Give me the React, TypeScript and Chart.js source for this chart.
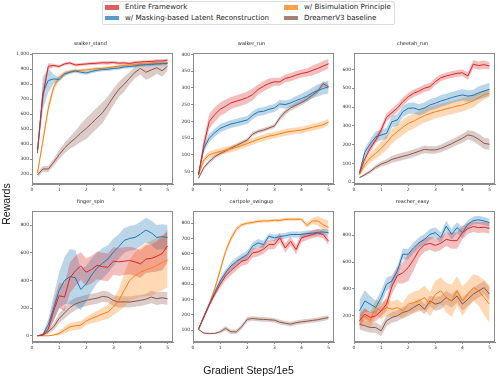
import React, { useEffect, useRef } from "react";
import { Chart, registerables } from "chart.js";

Chart.register(...registerables);

// ---------------- DATA ----------------
const STEPS = [0.2, 0.4, 0.6, 0.8, 1.0, 1.2, 1.4, 1.6, 1.8, 2.0, 2.2, 2.4, 2.6, 2.8, 3.0, 3.2, 3.4, 3.6, 3.8, 4.0, 4.2, 4.4, 4.6, 4.8, 5.0];
const X_TICKS = [0, 1, 2, 3, 4, 5];

const SERIES_NAMES = ["Entire Framework", "w/ Masking-based Latent Reconstruction", "w/ Bisimulation Principle", "DreamerV3 baseline"];
const TASKS = ["walker_stand", "walker_run", "cheetah_run", "finger_spin", "cartpole_swingup", "reacher_easy"];

// walker_stand
const WS_FULL = [360, 720, 920, 925, 918, 935, 942, 928, 932, 935, 938, 940, 943, 942, 945, 940, 942, 938, 945, 948, 950, 952, 955, 955, 960];
const WS_FULL_SD = [30, 60, 20, 12, 10, 10, 10, 10, 10, 10, 10, 10, 12, 12, 10, 10, 10, 10, 10, 10, 10, 10, 12, 12, 12];
const WS_MASK = [340, 740, 825, 835, 832, 868, 880, 888, 880, 875, 885, 893, 898, 900, 905, 908, 915, 918, 922, 928, 930, 932, 935, 937, 938];
const WS_MASK_SD = [20, 110, 80, 30, 15, 15, 12, 12, 12, 12, 12, 12, 12, 12, 12, 12, 12, 12, 12, 12, 12, 12, 12, 12, 12];
const WS_BISIM = [207, 420, 640, 780, 845, 870, 885, 890, 893, 895, 900, 905, 905, 910, 915, 920, 925, 928, 930, 933, 935, 937, 938, 940, 943];
const WS_BISIM_SD = [15, 25, 30, 25, 20, 15, 12, 10, 10, 10, 10, 10, 10, 10, 10, 10, 10, 10, 10, 10, 10, 10, 10, 10, 10];
const WS_BASE = [195, 235, 235, 280, 330, 375, 410, 440, 475, 505, 540, 575, 610, 660, 715, 765, 800, 840, 880, 905, 880, 895, 910, 890, 920];
const WS_BASE_SD = [15, 20, 20, 25, 30, 35, 40, 50, 60, 70, 70, 70, 70, 60, 55, 50, 50, 40, 40, 40, 50, 50, 40, 40, 30];

// walker_run
const WR_FULL = [40, 130, 200, 220, 236, 245, 255, 260, 265, 271, 280, 295, 305, 313, 318, 318, 328, 332, 338, 343, 346, 352, 358, 365, 372];
const WR_FULL_SD = [8, 20, 22, 22, 20, 20, 18, 18, 18, 18, 18, 15, 15, 15, 12, 12, 12, 12, 12, 12, 12, 15, 15, 15, 15];
const WR_MASK = [40, 120, 150, 166, 179, 186, 192, 196, 200, 204, 218, 228, 230, 236, 240, 252, 250, 255, 262, 268, 275, 285, 292, 298, 303];
const WR_MASK_SD = [6, 12, 12, 12, 12, 12, 12, 12, 12, 12, 12, 12, 12, 12, 12, 12, 12, 12, 14, 14, 15, 16, 18, 18, 20];
const WR_BISIM = [40, 85, 100, 106, 110, 114, 118, 122, 128, 134, 140, 146, 151, 156, 159, 163, 167, 170, 172, 174, 178, 182, 186, 190, 198];
const WR_BISIM_SD = [5, 10, 10, 10, 10, 10, 10, 10, 10, 10, 10, 10, 10, 10, 10, 10, 10, 10, 10, 10, 10, 10, 10, 10, 10];
const WR_BASE = [30, 62, 80, 94, 104, 112, 120, 128, 136, 144, 162, 170, 174, 180, 186, 210, 228, 240, 248, 256, 266, 278, 290, 312, 303];
const WR_BASE_SD = [3, 5, 6, 6, 6, 6, 6, 6, 6, 6, 6, 6, 6, 6, 6, 8, 8, 8, 8, 8, 8, 8, 8, 8, 8];

// cheetah_run
const CR_FULL = [48, 125, 180, 225, 278, 345, 370, 395, 428, 455, 473, 485, 500, 508, 535, 555, 565, 572, 579, 582, 565, 628, 620, 625, 618];
const CR_FULL_SD = [10, 15, 18, 20, 20, 22, 22, 22, 22, 20, 20, 20, 20, 20, 20, 18, 18, 18, 18, 18, 20, 22, 22, 22, 20];
const CR_MASK = [50, 160, 205, 242, 251, 260, 322, 331, 375, 393, 395, 385, 395, 411, 420, 432, 440, 450, 458, 464, 458, 462, 475, 485, 494];
const CR_MASK_SD = [10, 20, 25, 28, 28, 30, 30, 30, 30, 30, 30, 30, 30, 30, 30, 30, 30, 30, 30, 30, 30, 30, 35, 35, 35];
const CR_BISIM = [40, 95, 130, 154, 181, 210, 245, 270, 292, 313, 325, 340, 355, 365, 375, 382, 390, 397, 405, 411, 422, 433, 450, 465, 473];
const CR_BISIM_SD = [8, 20, 25, 30, 35, 38, 40, 40, 40, 40, 40, 38, 38, 38, 35, 35, 35, 35, 35, 35, 35, 35, 30, 25, 20];
const CR_BASE = [25, 40, 58, 80, 97, 107, 122, 130, 138, 145, 155, 165, 175, 172, 172, 180, 192, 205, 220, 234, 252, 245, 228, 207, 202];
const CR_BASE_SD = [5, 8, 10, 12, 14, 16, 18, 20, 20, 20, 20, 20, 20, 20, 20, 20, 22, 22, 22, 24, 25, 28, 30, 30, 30];

// finger_spin
const FS_FULL = [0, 5, 50, 180, 290, 280, 420, 470, 505, 460, 480, 510, 500, 495, 540, 535, 540, 545, 535, 520, 555, 560, 575, 595, 650];
const FS_FULL_SD = [0, 5, 30, 70, 90, 100, 110, 110, 100, 100, 100, 100, 100, 100, 100, 100, 100, 100, 100, 100, 100, 100, 110, 120, 120];
const FS_MASK = [0, 10, 80, 200, 328, 400, 428, 420, 335, 376, 440, 490, 525, 556, 604, 645, 690, 705, 712, 736, 765, 745, 712, 717, 712];
const FS_MASK_SD = [0, 10, 40, 90, 130, 170, 200, 200, 150, 130, 120, 110, 110, 100, 100, 90, 90, 90, 90, 90, 90, 90, 90, 90, 90];
const FS_BISIM = [0, 0, 0, 5, 17, 41, 65, 72, 77, 108, 125, 140, 158, 172, 208, 256, 328, 400, 436, 460, 478, 490, 508, 530, 549];
const FS_BISIM_SD = [0, 0, 0, 5, 15, 25, 30, 30, 30, 30, 35, 40, 45, 50, 60, 80, 120, 150, 170, 180, 190, 200, 200, 200, 200];
const FS_BASE = [0, 5, 30, 65, 125, 165, 205, 230, 244, 256, 265, 272, 285, 280, 256, 244, 246, 244, 250, 256, 265, 280, 268, 275, 268];
const FS_BASE_SD = [0, 5, 15, 25, 35, 40, 45, 45, 40, 40, 40, 40, 40, 40, 40, 40, 40, 40, 40, 40, 40, 45, 45, 45, 45];

// cartpole_swingup
const CS_FULL = [105, 185, 265, 335, 399, 454, 490, 520, 551, 562, 606, 612, 630, 660, 660, 704, 638, 682, 627, 704, 715, 726, 737, 726, 682];
const CS_FULL_SD = [5, 10, 15, 20, 25, 30, 30, 30, 30, 30, 30, 30, 30, 30, 30, 30, 30, 30, 30, 30, 25, 25, 25, 25, 25];
const CS_MASK = [105, 190, 270, 345, 421, 475, 520, 550, 573, 595, 650, 671, 660, 715, 704, 712, 718, 726, 726, 726, 732, 735, 740, 743, 737];
const CS_MASK_SD = [5, 12, 15, 18, 20, 22, 25, 25, 25, 25, 25, 25, 25, 20, 20, 20, 20, 20, 20, 20, 20, 20, 20, 20, 20];
const CS_BISIM = [105, 185, 270, 370, 490, 615, 700, 760, 790, 800, 805, 812, 815, 815, 820, 818, 825, 826, 826, 826, 785, 815, 815, 790, 772];
const CS_BISIM_SD = [5, 10, 12, 15, 20, 20, 20, 15, 12, 10, 10, 10, 10, 10, 10, 10, 10, 10, 10, 10, 15, 20, 30, 40, 45];
const CS_BASE = [105, 80, 78, 78, 89, 111, 89, 89, 122, 170, 176, 172, 170, 168, 165, 152, 145, 139, 148, 154, 158, 163, 168, 175, 182];
const CS_BASE_SD = [5, 5, 5, 5, 10, 15, 15, 15, 15, 15, 15, 15, 15, 15, 15, 15, 15, 15, 15, 15, 15, 15, 15, 15, 15];

// reacher_easy
const RE_FULL = [163, 212, 188, 200, 237, 287, 420, 500, 520, 560, 620, 690, 728, 740, 725, 740, 770, 760, 760, 820, 850, 865, 857, 860, 852];
const RE_FULL_SD = [40, 40, 40, 40, 40, 50, 60, 60, 80, 100, 80, 60, 50, 50, 50, 50, 50, 60, 60, 50, 40, 40, 40, 40, 40];
const RE_MASK = [237, 311, 287, 262, 336, 435, 460, 535, 659, 659, 708, 745, 770, 807, 820, 783, 869, 807, 857, 820, 882, 910, 915, 907, 894];
const RE_MASK_SD = [80, 80, 60, 50, 50, 50, 40, 40, 40, 40, 40, 40, 40, 40, 40, 40, 40, 40, 40, 40, 30, 30, 30, 30, 30];
const RE_BISIM = [163, 200, 163, 262, 237, 262, 249, 262, 237, 287, 299, 311, 336, 287, 361, 386, 336, 311, 386, 311, 361, 410, 386, 336, 287];
const RE_BISIM_SD = [60, 60, 60, 60, 60, 60, 60, 60, 60, 70, 80, 80, 90, 90, 100, 100, 110, 120, 110, 110, 100, 100, 110, 130, 140];
const RE_BASE = [138, 126, 113, 113, 88, 163, 188, 200, 225, 237, 262, 287, 249, 311, 287, 299, 336, 311, 348, 287, 324, 361, 386, 410, 361];
const RE_BASE_SD = [40, 40, 40, 40, 40, 40, 40, 40, 40, 40, 40, 40, 40, 40, 50, 50, 50, 50, 50, 50, 50, 50, 50, 50, 50];

// y-axis ranges and tick labels per task
const Y_MIN = [135, 13, -9, -45, 22, 5];
const Y_MAX = [1008, 404, 687, 903, 880, 981];
const Y_TICKS_WS = [200, 300, 400, 500, 600, 700, 800, 900, 1000];
const Y_TICKS_WR = [50, 100, 150, 200, 250, 300, 350, 400];
const Y_TICKS_CR = [0, 100, 200, 300, 400, 500, 600];
const Y_TICKS_FS = [0, 200, 400, 600, 800];
const Y_TICKS_CS = [100, 200, 300, 400, 500, 600, 700, 800];
const Y_TICKS_RE = [200, 400, 600, 800];
const Y_TICKS = [Y_TICKS_WS, Y_TICKS_WR, Y_TICKS_CR, Y_TICKS_FS, Y_TICKS_CS, Y_TICKS_RE];

const MEANS = [
  [WS_FULL, WS_MASK, WS_BISIM, WS_BASE],
  [WR_FULL, WR_MASK, WR_BISIM, WR_BASE],
  [CR_FULL, CR_MASK, CR_BISIM, CR_BASE],
  [FS_FULL, FS_MASK, FS_BISIM, FS_BASE],
  [CS_FULL, CS_MASK, CS_BISIM, CS_BASE],
  [RE_FULL, RE_MASK, RE_BISIM, RE_BASE],
];
const SPREADS = [
  [WS_FULL_SD, WS_MASK_SD, WS_BISIM_SD, WS_BASE_SD],
  [WR_FULL_SD, WR_MASK_SD, WR_BISIM_SD, WR_BASE_SD],
  [CR_FULL_SD, CR_MASK_SD, CR_BISIM_SD, CR_BASE_SD],
  [FS_FULL_SD, FS_MASK_SD, FS_BISIM_SD, FS_BASE_SD],
  [CS_FULL_SD, CS_MASK_SD, CS_BISIM_SD, CS_BASE_SD],
  [RE_FULL_SD, RE_MASK_SD, RE_BISIM_SD, RE_BASE_SD],
];

// ---------------- STYLE / LAYOUT ----------------
const COLORS = ["#d62728", "#1f77b4", "#ff7f0e", "#8c564b"];
const FILLS = ["rgba(214,39,40,0.3)", "rgba(31,119,180,0.3)", "rgba(255,127,14,0.3)", "rgba(140,86,75,0.3)"];
const LEGEND_PATCH = ["rgba(214,39,40,0.75)", "rgba(31,119,180,0.75)", "rgba(255,127,14,0.75)", "rgba(140,86,75,0.75)"];

const COL_LEFT = [8, 169, 330];
const ROW_TOP = [38, 196];
const CANVAS_W = 167;
const CANVAS_H = 158;
const Y_AXIS_W = 24;
const X_AXIS_H = 12;
const SPINE = "#8a8a8a";
const FONT = "DejaVu Sans";

const framePlugin = {
  id: "frame",
  afterDraw(chart: any) {
    const { ctx, chartArea } = chart;
    ctx.save();
    ctx.strokeStyle = SPINE;
    ctx.lineWidth = 1;
    ctx.strokeRect(
      Math.round(chartArea.left) + 0.5,
      Math.round(chartArea.top) + 0.5,
      Math.round(chartArea.right - chartArea.left) - 1,
      Math.round(chartArea.bottom - chartArea.top) - 1
    );
    ctx.restore();
  },
};

function makeConfig(p: number): any {
  const datasets: any[] = [];
  // mean lines first (drawn on top)
  for (let s = 0; s < 4; s++) {
    datasets.push({
      label: SERIES_NAMES[s],
      data: STEPS.map((x, i) => ({ x, y: MEANS[p][s][i] })),
      borderColor: COLORS[s],
      borderWidth: 1,
      pointRadius: 0,
      fill: false,
      tension: 0,
    });
  }
  for (let s = 0; s < 4; s++) {
    datasets.push({
      label: SERIES_NAMES[s] + " upper",
      data: STEPS.map((x, i) => ({ x, y: MEANS[p][s][i] + SPREADS[p][s][i] })),
      borderColor: "transparent",
      borderWidth: 0,
      pointRadius: 0,
      backgroundColor: FILLS[s],
      fill: "+1",
      tension: 0,
    });
    datasets.push({
      label: SERIES_NAMES[s] + " lower",
      data: STEPS.map((x, i) => ({ x, y: MEANS[p][s][i] - SPREADS[p][s][i] })),
      borderColor: "transparent",
      borderWidth: 0,
      pointRadius: 0,
      fill: false,
      tension: 0,
    });
  }
  const tickFont = { family: FONT, size: 4.5 };
  return {
    type: "line",
    data: { datasets },
    plugins: [framePlugin],
    options: {
      responsive: false,
      animation: false,
      events: [],
      layout: { padding: { left: 0, right: 2, top: 0, bottom: 0 } },
      plugins: {
        legend: { display: false },
        tooltip: { enabled: false },
        title: {
          display: true,
          text: TASKS[p],
          color: "#222",
          font: { family: FONT, size: 5, weight: "normal", lineHeight: 1.2 },
          padding: { top: 2.4, bottom: 6.6 },
        },
      },
      scales: {
        x: {
          type: "linear",
          min: 0,
          max: 5.2,
          afterFit: (scale: any) => {
            scale.height = X_AXIS_H;
          },
          afterBuildTicks: (scale: any) => {
            scale.ticks = X_TICKS.map((v) => ({ value: v }));
          },
          ticks: { font: tickFont, color: "#333", padding: 1, maxRotation: 0, autoSkip: false },
          grid: { display: true, drawOnChartArea: false, drawTicks: true, tickLength: 2, tickColor: SPINE },
          border: { display: true, color: SPINE },
        },
        y: {
          type: "linear",
          min: Y_MIN[p],
          max: Y_MAX[p],
          afterFit: (scale: any) => {
            scale.width = Y_AXIS_W;
          },
          afterBuildTicks: (scale: any) => {
            scale.ticks = Y_TICKS[p].map((v) => ({ value: v }));
          },
          ticks: { font: tickFont, color: "#333", padding: 1, autoSkip: false },
          grid: { display: true, drawOnChartArea: false, drawTicks: true, tickLength: 2, tickColor: SPINE },
          border: { display: true, color: SPINE },
        },
      },
    },
  };
}

export default function App() {
  const refs = useRef<(HTMLCanvasElement | null)[]>([]);

  useEffect(() => {
    const charts: Chart[] = [];
    for (let p = 0; p < 6; p++) {
      const c = refs.current[p];
      if (c) charts.push(new Chart(c, makeConfig(p)));
    }
    return () => charts.forEach((ch) => ch.destroy());
  }, []);

  const legendItems = [
    { s: 0, x: 105, y: 7.4 },
    { s: 1, x: 105, y: 17.8 },
    { s: 2, x: 284, y: 7.4 },
    { s: 3, x: 284, y: 17.8 },
  ];

  return (
    <div style={{ position: "fixed", left: 0, top: 0, width: 498, height: 377, background: "#fff", overflow: "hidden" }}>
      {/* legend */}
      <div
        style={{
          position: "absolute",
          left: 102,
          top: 1,
          width: 293,
          height: 24,
          boxSizing: "border-box",
          border: "1px solid #dcdcdc",
          borderRadius: 2,
        }}
      />
      {legendItems.map((it) => (
        <React.Fragment key={it.s}>
          <div
            style={{
              position: "absolute",
              left: it.x,
              top: it.y - 2.3,
              width: 14,
              height: 4.6,
              background: LEGEND_PATCH[it.s],
            }}
          />
          <div
            style={{
              position: "absolute",
              left: it.x + 20,
              top: it.y - 5,
              height: 10,
              lineHeight: "10px",
              fontFamily: FONT,
              fontSize: 7.1,
              color: "#222",
              whiteSpace: "nowrap",
            }}
          >
            {SERIES_NAMES[it.s]}
          </div>
        </React.Fragment>
      ))}

      {TASKS.map((t, p) => (
        <canvas
          key={t}
          ref={(el) => {
            refs.current[p] = el;
          }}
          width={CANVAS_W}
          height={CANVAS_H}
          style={{
            position: "absolute",
            left: COL_LEFT[p % 3],
            top: ROW_TOP[Math.floor(p / 3)],
            width: CANVAS_W,
            height: CANVAS_H,
          }}
        />
      ))}

      {/* figure labels */}
      <div
        style={{
          position: "absolute",
          left: 5.5 - 30,
          top: 203.5 - 7,
          width: 60,
          height: 14,
          lineHeight: "14px",
          textAlign: "center",
          fontFamily: "Liberation Sans",
          fontSize: 10.5,
          color: "#111",
          transform: "rotate(-90deg)",
        }}
      >
        Rewards
      </div>
      <div
        style={{
          position: "absolute",
          left: 248.5 - 70,
          top: 370 - 7,
          width: 140,
          height: 14,
          lineHeight: "14px",
          textAlign: "center",
          fontFamily: "Liberation Sans",
          fontSize: 10.5,
          color: "#111",
        }}
      >
        Gradient Steps/1e5
      </div>
    </div>
  );
}
